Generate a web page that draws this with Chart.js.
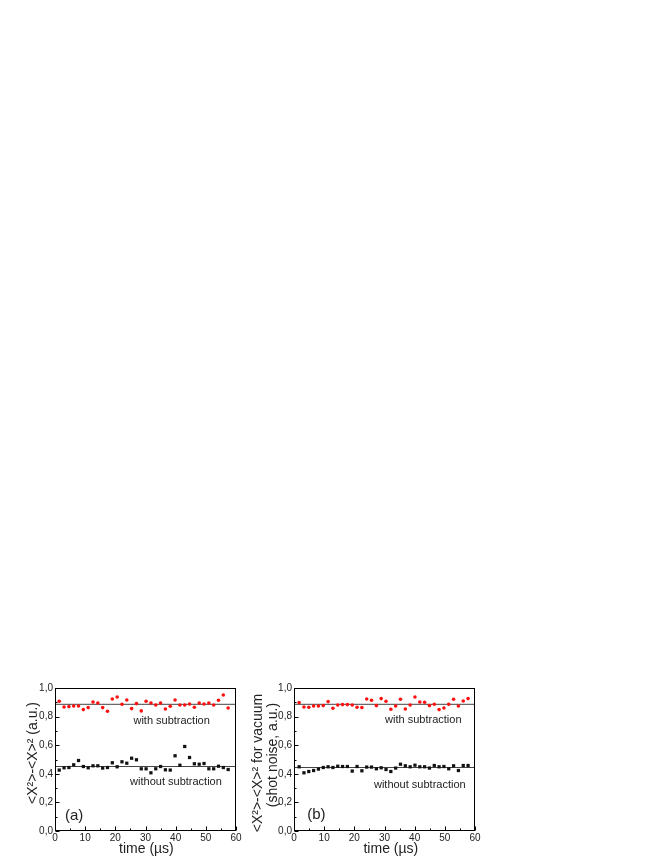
<!DOCTYPE html>
<html>
<head>
<meta charset="utf-8">
<script src="https://cdn.jsdelivr.net/npm/chart.js@4.4.1/dist/chart.umd.min.js"></script>
<style>
  html, body { margin: 0; padding: 0; background: #fff; }
  body { width: 664px; height: 860px; position: relative; overflow: hidden; }
  canvas { position: absolute; }
  #panelA { left: 0; top: 670px; }
  #panelB { left: 240px; top: 670px; }
</style>
</head>
<body>
<canvas id="panelA" width="245" height="190"></canvas>
<canvas id="panelB" width="250" height="190"></canvas>
<script>
// time axis (µs) for each panel
const timeA = [1.4, 3.0, 4.6, 6.2, 7.8, 9.4, 11.0, 12.6, 14.2, 15.8, 17.4, 19.0,
  20.6, 22.2, 23.8, 25.4, 27.0, 28.6, 30.2, 31.8, 33.4, 35.0, 36.6, 38.2,
  39.8, 41.4, 43.0, 44.6, 46.2, 47.8, 49.4, 51.0, 52.6, 54.2, 55.8, 57.4];
const timeB = [1.7, 3.3, 4.9, 6.5, 8.1, 9.7, 11.3, 12.9, 14.5, 16.1, 17.7, 19.3,
  20.9, 22.5, 24.1, 25.7, 27.3, 28.9, 30.5, 32.1, 33.7, 35.3, 36.9, 38.5,
  40.1, 41.7, 43.3, 44.9, 46.5, 48.1, 49.7, 51.3, 52.9, 54.5, 56.1, 57.7];

// (a) <X²>-<X>²
const withSubA = [0.907, 0.867, 0.870, 0.874, 0.874, 0.849, 0.863, 0.902, 0.895, 0.863, 0.837, 0.923,
  0.937, 0.886, 0.916, 0.856, 0.891, 0.840, 0.907, 0.895, 0.881, 0.895, 0.853, 0.872,
  0.916, 0.881, 0.881, 0.888, 0.865, 0.895, 0.888, 0.895, 0.881, 0.914, 0.951, 0.860];
const withoutSubA = [0.426, 0.442, 0.444, 0.463, 0.493, 0.451, 0.442, 0.456, 0.456, 0.440, 0.444, 0.477,
  0.449, 0.484, 0.474, 0.509, 0.498, 0.435, 0.435, 0.407, 0.435, 0.451, 0.428, 0.426,
  0.526, 0.460, 0.591, 0.514, 0.470, 0.467, 0.472, 0.435, 0.435, 0.453, 0.444, 0.430];

// (b) vacuum / shot noise
const withSubB = [0.898, 0.867, 0.865, 0.874, 0.874, 0.877, 0.905, 0.858, 0.881, 0.884, 0.884, 0.881,
  0.865, 0.863, 0.923, 0.914, 0.877, 0.926, 0.907, 0.851, 0.874, 0.921, 0.853, 0.881,
  0.937, 0.902, 0.900, 0.877, 0.886, 0.849, 0.860, 0.886, 0.921, 0.874, 0.909, 0.926];
const withoutSubB = [0.449, 0.407, 0.416, 0.423, 0.433, 0.444, 0.449, 0.444, 0.453, 0.451, 0.451, 0.419,
  0.451, 0.421, 0.447, 0.447, 0.435, 0.442, 0.430, 0.416, 0.440, 0.467, 0.456, 0.449,
  0.460, 0.449, 0.449, 0.440, 0.458, 0.449, 0.451, 0.435, 0.456, 0.423, 0.458, 0.458];

// fitted mean levels
const fitA = [0.886, 0.451];
const fitB = [0.886, 0.444];

const yTickLabels = ["0,0", "0,2", "0,4", "0,6", "0,8", "1,0"];
const xTickLabels = ["0", "10", "20", "30", "40", "50", "60"];

const FONT = 'Arial, "Liberation Sans", sans-serif';
const TXT = "#222";

const pts = (xs, ys) => xs.map((x, i) => ({ x: x, y: ys[i] }));
const level = (v) => [{ x: 0, y: v }, { x: 60, y: v }];

// frame, inward ticks and labels (Origin style)
const panelDecor = {
  id: "panelDecor",
  afterDraw(chart, args, o) {
    const { ctx, chartArea: a, scales: { x, y } } = chart;
    ctx.save();
    ctx.strokeStyle = "#000";
    ctx.lineWidth = 1;
    const L = Math.round(a.left) + 0.5, R = Math.round(a.right) - 0.5;
    const T = Math.round(a.top) + 0.5, B = Math.round(a.bottom) - 0.5;
    ctx.strokeRect(L, T, R - L, B - T);

    ctx.beginPath();
    for (let v = 0; v <= 60; v += 5) {
      const px = Math.round(x.getPixelForValue(v)) + 0.5;
      const len = v % 10 === 0 ? 4 : 2;
      ctx.moveTo(px, B);
      ctx.lineTo(px, B - len);
    }
    for (let k = 0; k <= 10; k++) {
      const py = Math.round(y.getPixelForValue(k / 10)) + 0.5;
      const len = k % 2 === 0 ? 4 : 2;
      ctx.moveTo(L, py);
      ctx.lineTo(L + len, py);
    }
    ctx.stroke();

    ctx.fillStyle = TXT;
    ctx.textBaseline = "middle";
    ctx.textAlign = "left";
    ctx.font = "11px " + FONT;
    o.notes.forEach((n) => {
      ctx.fillText(n.text, x.getPixelForValue(n.x), y.getPixelForValue(n.y));
    });
    ctx.font = "15px " + FONT;
    ctx.fillText(o.tag.text, x.getPixelForValue(o.tag.x), y.getPixelForValue(o.tag.y));

    // x title
    ctx.textAlign = "center";
    ctx.font = "14px " + FONT;
    ctx.fillText("time (µs)", x.getPixelForValue(o.xTitleAt), 179);

    // y title, rotated
    ctx.rotate(-Math.PI / 2);
    o.yTitle.lines.forEach((line, i) => {
      ctx.fillText(line, -o.yTitle.cy[i], o.yTitle.cx[i]);
    });
    ctx.restore();
  },
};

function makePanel(id, time, withSub, withoutSub, fit, yWidth, padRight, decor) {
  return new Chart(document.getElementById(id), {
    type: "scatter",
    data: {
      datasets: [
        {
          label: "with subtraction",
          data: pts(time, withSub),
          pointStyle: "circle",
          pointRadius: 1.8,
          pointHoverRadius: 1.8,
          backgroundColor: "#ff1010",
          borderWidth: 0,
        },
        {
          label: "without subtraction",
          data: pts(time, withoutSub),
          pointStyle: "rect",
          pointRadius: 2.3,
          pointHoverRadius: 2.3,
          backgroundColor: "#111",
          borderWidth: 0,
        },
        {
          type: "line",
          data: level(fit[0]),
          borderColor: "#444",
          borderWidth: 1,
          pointRadius: 0,
        },
        {
          type: "line",
          data: level(fit[1]),
          borderColor: "#444",
          borderWidth: 1,
          pointRadius: 0,
        },
      ],
    },
    options: {
      responsive: false,
      animation: false,
      devicePixelRatio: 1,
      layout: { padding: { left: 0, top: 18, right: padRight, bottom: 0 } },
      plugins: {
        legend: { display: false },
        tooltip: { enabled: false },
        panelDecor: decor,
      },
      scales: {
        x: {
          type: "linear",
          min: 0,
          max: 60,
          grid: { display: false, drawTicks: false },
          border: { display: false },
          ticks: {
            stepSize: 10,
            padding: 1,
            color: TXT,
            font: { family: FONT, size: 10 },
            callback: (v, i) => xTickLabels[i],
          },
          afterFit: (s) => { s.height = 29; },
        },
        y: {
          min: 0,
          max: 1,
          grid: { display: false, drawTicks: false },
          border: { display: false },
          ticks: {
            stepSize: 0.2,
            padding: 2,
            color: TXT,
            font: { family: FONT, size: 10 },
            callback: (v, i) => yTickLabels[i],
          },
          afterFit: (s) => { s.width = yWidth; },
        },
      },
    },
    plugins: [panelDecor],
  });
}

makePanel("panelA", timeA, withSubA, withoutSubA, fitA, 55, 9, {
  notes: [
    { text: "with subtraction", x: 26.0, y: 0.768 },
    { text: "without subtraction", x: 24.9, y: 0.340 },
  ],
  tag: { text: "(a)", x: 3.3, y: 0.107 },
  xTitleAt: 30.3,
  yTitle: { lines: ["<X²>-<X>² (a.u.)"], cx: [33], cy: [83] },
});

makePanel("panelB", timeB, withSubB, withoutSubB, fitB, 54, 15, {
  notes: [
    { text: "with subtraction", x: 30.2, y: 0.775 },
    { text: "without subtraction", x: 26.5, y: 0.321 },
  ],
  tag: { text: "(b)", x: 4.4, y: 0.112 },
  xTitleAt: 32.1,
  yTitle: { lines: ["<X²>-<X>² for vacuum", "(shot noise, a.u.)"], cx: [18, 33], cy: [93, 85] },
});
</script>
</body>
</html>
